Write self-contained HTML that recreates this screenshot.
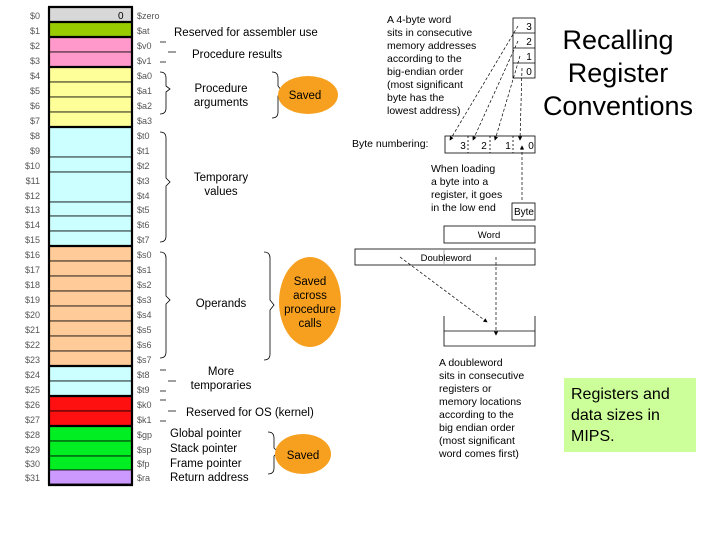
<!DOCTYPE html>
<html><head><meta charset="utf-8"><style>
body{margin:0;background:#fff}
svg{display:block}
text{font-family:"Liberation Sans",sans-serif}
</style></head><body>
<svg width="720" height="540" viewBox="0 0 720 540" xmlns="http://www.w3.org/2000/svg">
<defs><marker id="ar" markerWidth="6" markerHeight="6" refX="5" refY="3" orient="auto"><path d="M0,0 L6,3 L0,6z" fill="#000"/></marker></defs>
<g stroke="#000" stroke-width="0.8">
<rect x="49" y="7" width="83" height="15" fill="#d8d8d8"/>
<rect x="49" y="22" width="83" height="15" fill="#99cc00"/>
<rect x="49" y="37" width="83" height="15" fill="#ff99cc"/>
<rect x="49" y="52" width="83" height="15" fill="#ff99cc"/>
<rect x="49" y="67" width="83" height="15" fill="#ffff99"/>
<rect x="49" y="82" width="83" height="15" fill="#ffff99"/>
<rect x="49" y="97" width="83" height="15" fill="#ffff99"/>
<rect x="49" y="112" width="83" height="15" fill="#ffff99"/>
<rect x="49" y="127" width="83" height="30" fill="#ccffff"/>
<rect x="49" y="157" width="83" height="15" fill="#ccffff"/>
<rect x="49" y="172" width="83" height="30" fill="#ccffff"/>
<rect x="49" y="202" width="83" height="14" fill="#ccffff"/>
<rect x="49" y="216" width="83" height="15" fill="#ccffff"/>
<rect x="49" y="231" width="83" height="15" fill="#ccffff"/>
<rect x="49" y="246" width="83" height="15" fill="#ffcc99"/>
<rect x="49" y="261" width="83" height="15" fill="#ffcc99"/>
<rect x="49" y="276" width="83" height="15" fill="#ffcc99"/>
<rect x="49" y="291" width="83" height="15" fill="#ffcc99"/>
<rect x="49" y="306" width="83" height="15" fill="#ffcc99"/>
<rect x="49" y="321" width="83" height="15" fill="#ffcc99"/>
<rect x="49" y="336" width="83" height="15" fill="#ffcc99"/>
<rect x="49" y="351" width="83" height="15" fill="#ffcc99"/>
<rect x="49" y="366" width="83" height="15" fill="#ccffff"/>
<rect x="49" y="381" width="83" height="15" fill="#ccffff"/>
<rect x="49" y="396" width="83" height="15" fill="#ff1010"/>
<rect x="49" y="411" width="83" height="15" fill="#ff1010"/>
<rect x="49" y="426" width="83" height="15" fill="#00ee22"/>
<rect x="49" y="441" width="83" height="15" fill="#00ee22"/>
<rect x="49" y="456" width="83" height="14" fill="#00ee22"/>
<rect x="49" y="470" width="83" height="14" fill="#cc99ff"/>
</g>
<g stroke="#000" stroke-width="2.2">
<line x1="49" y1="7" x2="49" y2="485"/><line x1="132" y1="7" x2="132" y2="485"/>
<line x1="48" y1="7" x2="133" y2="7"/><line x1="48" y1="22" x2="133" y2="22"/><line x1="48" y1="37" x2="133" y2="37"/>
<line x1="48" y1="67" x2="133" y2="67"/><line x1="48" y1="127" x2="133" y2="127"/><line x1="48" y1="246" x2="133" y2="246"/>
<line x1="48" y1="366" x2="133" y2="366"/><line x1="48" y1="396" x2="133" y2="396"/><line x1="48" y1="426" x2="133" y2="426"/><line x1="48" y1="485" x2="133" y2="485"/>
</g>
<text x="118" y="19" font-size="10">0</text>
<g font-size="9" fill="#555" font-family="Liberation Mono,monospace">
<text x="40" y="19" text-anchor="end">$0</text><text x="40" y="34" text-anchor="end">$1</text><text x="40" y="49" text-anchor="end">$2</text><text x="40" y="64" text-anchor="end">$3</text>
<text x="40" y="79" text-anchor="end">$4</text><text x="40" y="94" text-anchor="end">$5</text><text x="40" y="109" text-anchor="end">$6</text><text x="40" y="124" text-anchor="end">$7</text>
<text x="40" y="139" text-anchor="end">$8</text><text x="40" y="154" text-anchor="end">$9</text><text x="40" y="169" text-anchor="end">$10</text><text x="40" y="184" text-anchor="end">$11</text>
<text x="40" y="199" text-anchor="end">$12</text><text x="40" y="213" text-anchor="end">$13</text><text x="40" y="228" text-anchor="end">$14</text><text x="40" y="243" text-anchor="end">$15</text>
<text x="40" y="258" text-anchor="end">$16</text><text x="40" y="273" text-anchor="end">$17</text><text x="40" y="288" text-anchor="end">$18</text><text x="40" y="303" text-anchor="end">$19</text>
<text x="40" y="318" text-anchor="end">$20</text><text x="40" y="333" text-anchor="end">$21</text><text x="40" y="348" text-anchor="end">$22</text><text x="40" y="363" text-anchor="end">$23</text>
<text x="40" y="378" text-anchor="end">$24</text><text x="40" y="393" text-anchor="end">$25</text><text x="40" y="408" text-anchor="end">$26</text><text x="40" y="423" text-anchor="end">$27</text>
<text x="40" y="438" text-anchor="end">$28</text><text x="40" y="453" text-anchor="end">$29</text><text x="40" y="467" text-anchor="end">$30</text><text x="40" y="481" text-anchor="end">$31</text>
<text x="137" y="19">$zero</text><text x="137" y="34">$at</text><text x="137" y="49">$v0</text><text x="137" y="64">$v1</text>
<text x="137" y="79">$a0</text><text x="137" y="94">$a1</text><text x="137" y="109">$a2</text><text x="137" y="124">$a3</text>
<text x="137" y="139">$t0</text><text x="137" y="154">$t1</text><text x="137" y="169">$t2</text><text x="137" y="184">$t3</text>
<text x="137" y="199">$t4</text><text x="137" y="213">$t5</text><text x="137" y="228">$t6</text><text x="137" y="243">$t7</text>
<text x="137" y="258">$s0</text><text x="137" y="273">$s1</text><text x="137" y="288">$s2</text><text x="137" y="303">$s3</text>
<text x="137" y="318">$s4</text><text x="137" y="333">$s5</text><text x="137" y="348">$s6</text><text x="137" y="363">$s7</text>
<text x="137" y="378">$t8</text><text x="137" y="393">$t9</text><text x="137" y="408">$k0</text><text x="137" y="423">$k1</text>
<text x="137" y="438">$gp</text><text x="137" y="453">$sp</text><text x="137" y="467">$fp</text><text x="137" y="481">$ra</text>
</g>
<g fill="none" stroke="#000" stroke-width="0.8">
<path d="M160,72 q6,0 6,6 v8 l4,3 l-4,3 v16 q0,6 -6,6"/>
<path d="M160,132 q6,0 6,6 v40 l4,4 l-4,4 v50 q0,6 -6,6"/>
<path d="M160,252 q6,0 6,6 v38 l4,4 l-4,4 v48 q0,6 -6,6"/>
<path d="M272,72 q6,0 6,6 v8 l4,5 l-4,5 v16 q0,6 -6,6"/>
<path d="M264,252 q6,0 6,6 v42 l4,5 l-4,5 v44 q0,6 -6,6"/>
<path d="M268,432 q6,0 6,6 v10 l4,4 l-4,4 v12 q0,6 -6,6"/>
<path d="M160,42 h6 M160,62 h6 M168,52 h8"/>
<path d="M160,370 h6 M160,391 h6 M168,381 h8"/>
<path d="M160,400 h6 M160,421 h6 M168,411 h8"/>
</g>
<g font-size="11.5" fill="#000">
<text x="174" y="36">Reserved  for assembler use</text>
<text x="192" y="58">Procedure results</text>
<text x="221" y="92" text-anchor="middle">Procedure</text><text x="221" y="106" text-anchor="middle">arguments</text>
<text x="221" y="181" text-anchor="middle">Temporary</text><text x="221" y="195" text-anchor="middle">values</text>
<text x="221" y="307" text-anchor="middle">Operands</text>
<text x="221" y="375" text-anchor="middle">More</text><text x="221" y="389" text-anchor="middle">temporaries</text>
<text x="186" y="416">Reserved for OS (kernel)</text>
<text x="170" y="437">Global pointer</text><text x="170" y="452">Stack pointer</text><text x="170" y="467">Frame pointer</text><text x="170" y="481">Return address</text>
</g>
<g fill="#f7a020">
<ellipse cx="308" cy="95" rx="30" ry="19"/><ellipse cx="310" cy="302" rx="31" ry="45"/><ellipse cx="303" cy="454" rx="28" ry="20"/>
</g>
<g font-size="11.5" text-anchor="middle">
<text x="305" y="99">Saved</text>
<text x="310" y="285">Saved</text><text x="310" y="299">across</text><text x="310" y="313">procedure</text><text x="310" y="327">calls</text>
<text x="303" y="459">Saved</text>
</g>
<g font-size="10.5">
<text x="387" y="23">A 4-byte word</text><text x="387" y="36">sits in consecutive</text><text x="387" y="49">memory addresses</text><text x="387" y="62">according to the</text><text x="387" y="75">big-endian order</text><text x="387" y="88">(most significant</text><text x="387" y="101">byte has the</text><text x="387" y="114">lowest address)</text>
<text x="352" y="147">Byte numbering:</text>
<text x="431" y="172">When loading</text><text x="431" y="185">a byte into a</text><text x="431" y="198">register, it goes</text><text x="431" y="211">in the low end</text>
<text x="439" y="366">A doubleword</text><text x="439" y="379">sits in consecutive</text><text x="439" y="392">registers or</text><text x="439" y="405">memory locations</text><text x="439" y="418">according to the</text><text x="439" y="431">big endian order</text><text x="439" y="444">(most significant</text><text x="439" y="457">word comes first)</text>
</g>
<g fill="none" stroke="#000" stroke-width="0.8">
<rect x="513" y="18" width="22" height="60"/><line x1="513" y1="33" x2="535" y2="33"/><line x1="513" y1="48" x2="535" y2="48"/><line x1="513" y1="63" x2="535" y2="63"/>
<rect x="445" y="136" width="90" height="17"/><line x1="468" y1="136" x2="468" y2="153" stroke-dasharray="2,2"/><line x1="490" y1="136" x2="490" y2="153" stroke-dasharray="2,2"/><line x1="513" y1="136" x2="513" y2="153" stroke-dasharray="2,2"/>
<rect x="512" y="203" width="23" height="17"/>
<rect x="444" y="226" width="91" height="17"/>
<rect x="355" y="249" width="180" height="16"/><line x1="444" y1="249" x2="444" y2="265" stroke="#999"/>
<path d="M444,316 v30 h91 v-30"/><line x1="444" y1="331" x2="535" y2="331"/>
</g>
<g fill="none" stroke="#000" stroke-width="0.7" stroke-dasharray="3,2">
<line x1="518" y1="26" x2="450" y2="140" marker-end="url(#ar)"/>
<line x1="518" y1="41" x2="473" y2="140" marker-end="url(#ar)"/>
<line x1="520" y1="56" x2="495" y2="140" marker-end="url(#ar)"/>
<line x1="522" y1="68" x2="520" y2="140" marker-end="url(#ar)"/>
<line x1="522" y1="200" x2="522" y2="146" marker-end="url(#ar)"/>
<line x1="400" y1="257" x2="487" y2="322" marker-end="url(#ar)"/>
<line x1="496" y1="257" x2="496" y2="335" marker-end="url(#ar)"/>
</g>
<g font-size="10" text-anchor="middle">
<text x="529" y="30">3</text><text x="529" y="45">2</text><text x="529" y="60">1</text><text x="529" y="75">0</text>
<text x="463" y="149">3</text><text x="484" y="149">2</text><text x="508" y="149">1</text><text x="531" y="149">0</text>
<text x="524" y="215">Byte</text>
<text x="489" y="238" font-size="9.5">Word</text>
<text x="446" y="261" font-size="9.5">Doubleword</text>
</g>
<g font-size="27" text-anchor="middle">
<text x="618" y="49">Recalling</text><text x="618" y="82">Register</text><text x="618" y="115">Conventions</text>
</g>
<rect x="564" y="378" width="132" height="74" fill="#ccff99"/>
<g font-size="16"><text x="571" y="399">Registers and</text><text x="571" y="420">data sizes in</text><text x="571" y="441">MIPS.</text></g>
</svg>
</body></html>
